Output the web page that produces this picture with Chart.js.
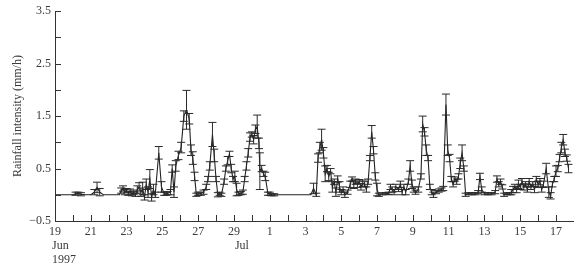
<!DOCTYPE html>
<html><head><meta charset="utf-8">
<script src="https://cdn.jsdelivr.net/npm/chart.js@4"></script>
<style>html,body{margin:0;padding:0;background:#fff}#wrap{width:577px;height:267px}</style>
</head><body><div id="wrap"><canvas id="c" width="577" height="267"></canvas></div>
<script>
// time in days since 19 Jun 1997 00:00
const days = [0,0.5,1,1.15,1.3,1.45,1.7,2,2.2,2.35,2.5,2.7,3.2,3.6,3.7,3.8,3.9,4,4.1,4.2,4.3,4.4,4.5,4.6,4.7,4.8,4.9,5,5.1,5.2,5.3,5.4,5.5,5.6,5.8,5.95,6.1,6.2,6.3,6.45,6.55,6.65,6.75,6.9,7.05,7.2,7.35,7.5,7.6,7.7,7.8,7.9,8,8.15,8.3,8.45,8.55,8.65,8.8,8.9,9,9.1,9.2,9.3,9.45,9.55,9.65,9.75,9.85,9.95,10.05,10.15,10.25,10.4,10.5,10.6,10.7,10.8,10.9,11,11.1,11.2,11.3,11.4,11.45,11.55,11.65,11.75,11.9,12,12.1,12.25,12.6,13,13.5,14,14.3,14.45,14.6,14.7,14.8,14.9,15,15.1,15.2,15.3,15.4,15.5,15.6,15.7,15.8,15.9,16,16.1,16.2,16.35,16.5,16.6,16.7,16.8,16.9,17,17.1,17.2,17.3,17.4,17.5,17.6,17.7,17.8,17.9,18,18.1,18.3,18.5,18.65,18.75,18.85,18.95,19.05,19.2,19.3,19.4,19.5,19.6,19.75,19.85,19.95,20.05,20.15,20.3,20.45,20.55,20.65,20.75,20.85,20.95,21.05,21.15,21.3,21.45,21.6,21.7,21.85,21.95,22.05,22.15,22.25,22.35,22.45,22.55,22.65,22.75,22.85,22.95,23.1,23.3,23.5,23.65,23.75,23.85,24,24.2,24.4,24.6,24.7,24.8,24.9,25,25.1,25.25,25.4,25.5,25.6,25.7,25.8,25.9,26,26.1,26.2,26.3,26.4,26.5,26.6,26.7,26.8,26.9,27,27.1,27.2,27.3,27.45,27.6,27.7,27.8,27.9,28,28.1,28.2,28.3,28.4,28.5,28.6,28.7];
const intensity = [0,0,0,0.02,0.03,0.01,0,0,0.05,0.14,0.05,0,0,0,0.08,0.12,0.05,0.08,0.03,0.06,0.02,0.05,0,0.1,0.15,0.05,0.12,-0.05,0.2,0.05,0.3,-0.05,0.1,0,0.8,0.15,0.02,0.02,0.03,0.05,0.5,0.05,0.55,0.75,0.9,1.5,1.62,1.45,0.85,0.7,0.35,0,0.02,0.02,0.05,0.15,0.3,0.55,1.15,0.75,0.3,0,0.02,0,0.25,0.5,0.65,0.78,0.5,0.3,0.35,0.1,0.02,0.03,0.05,0.3,0.55,0.8,1.1,1.15,1.05,1.25,1.3,0.98,0.45,0.5,0.4,0.35,0.02,0.02,0,0,0,0,0,0,0,0.12,0,0.7,0.9,1.05,0.8,0.4,0.5,0.35,0.45,0.15,0.25,0.05,0.3,0.15,0.05,0.1,0,0.05,0.2,0.3,0.2,0.25,0.2,0.25,0.15,0.22,0.2,0.1,0.25,0.7,1.2,0.85,0.35,0.1,0,0.02,0.02,0.03,0.15,0.1,0.05,0.15,0.1,0.2,0.05,0.15,0.05,0.25,0.55,0.2,0.1,0.05,0.1,0.35,1.35,1.2,0.85,0.7,0.15,0.05,0,0.05,0.08,0.1,0.12,1.72,0.85,0.7,0.3,0.2,0.3,0.25,0.35,0.6,0.8,0.5,0,0.02,0.02,0.02,0.05,0.35,0.1,0.02,0.02,0.02,0.05,0.3,0.2,0.25,0.15,0,0.02,0.02,0.05,0.1,0.15,0.1,0.2,0.15,0.25,0.15,0.2,0.1,0.25,0.15,0.2,0.1,0.3,0.2,0.25,0.1,0.2,0.5,0.05,-0.02,0.2,0.3,0.45,0.5,0.7,0.9,1.05,0.8,0.7,0.5];
const errors = [0,0,0,0.03,0.02,0.03,0,0,0.05,0.1,0.07,0,0,0,0.05,0.05,0.05,0.04,0.04,0.05,0.04,0.04,0.03,0.07,0.08,0.08,0.12,0.05,0.1,0.1,0.18,0.07,0.1,0.05,0.12,0.1,0.03,0.03,0.03,0.05,0.07,0.1,0.1,0.08,0.1,0.1,0.37,0.1,0.1,0.12,0.08,0.03,0.03,0.03,0.04,0.05,0.05,0.08,0.23,0.12,0.05,0.04,0.03,0.03,0.05,0.05,0.08,0.05,0.08,0.05,0.1,0.12,0.03,0.03,0.04,0.05,0.08,0.08,0.08,0.05,0.08,0.08,0.22,0.1,0.35,0.06,0.05,0.08,0.03,0.03,0.02,0.02,0,0,0,0,0,0.1,0.03,0.08,0.1,0.2,0.1,0.15,0.06,0.08,0.05,0.1,0.05,0.08,0.06,0.1,0.05,0.05,0.05,0.04,0.06,0.04,0.08,0.05,0.06,0.04,0.06,0.06,0.05,0.05,0.05,0.05,0.12,0.07,0.07,0.12,0.03,0.02,0.02,0.02,0.05,0.05,0.05,0.05,0.04,0.06,0.05,0.05,0.05,0.05,0.1,0.08,0.05,0.04,0.05,0.05,0.15,0.08,0.1,0.05,0.05,0.05,0.05,0.03,0.03,0.03,0.04,0.2,0.1,0.07,0.05,0.05,0.04,0.05,0.05,0.1,0.15,0.05,0.03,0.02,0.02,0.02,0.03,0.06,0.05,0.02,0.02,0.02,0.03,0.06,0.05,0.05,0.04,0.03,0.02,0.02,0.05,0.06,0.05,0.06,0.08,0.05,0.06,0.06,0.05,0.05,0.06,0.05,0.05,0.06,0.05,0.06,0.06,0.05,0.06,0.1,0.1,0.06,0.05,0.05,0.1,0.06,0.07,0.1,0.1,0.07,0.06,0.08];
const tickDates = ['19','21','23','25','27','29','1','3','5','7','9','11','13','15','17'];
const yLabelValues = [-0.5, 0.5, 1.5, 2.5, 3.5];
const monthLabels = [{day: 0, lines: ['Jun', '1997']}, {day: 10, lines: ['Jul']}];
const yTitle = 'Rainfall intensity (mm/h)';

const FONT = '"Liberation Serif", "Times New Roman", serif';
const TEXT = '#3a3a3a';
const AX = '#333';

const errorBars = {
  id: 'errorBars',
  afterDatasetsDraw(chart) {
    const {ctx, scales: {x, y}} = chart;
    ctx.save();
    ctx.strokeStyle = '#2a2a2a';
    ctx.lineWidth = 1;
    for (let i = 0; i < days.length; i++) {
      const e = errors[i];
      if (!e) continue;
      const px = x.getPixelForValue(days[i]);
      const yt = y.getPixelForValue(intensity[i] + e);
      const yb = y.getPixelForValue(intensity[i] - e);
      ctx.beginPath();
      ctx.moveTo(px, yt); ctx.lineTo(px, yb);
      ctx.moveTo(px - 4, yt); ctx.lineTo(px + 4, yt);
      ctx.moveTo(px - 4, yb); ctx.lineTo(px + 4, yb);
      ctx.stroke();
    }
    ctx.restore();
  }
};

const innerTicks = {
  id: 'innerTicks',
  afterDraw(chart) {
    const {ctx, chartArea: a, scales: {x, y}} = chart;
    ctx.save();
    ctx.strokeStyle = AX;
    ctx.lineWidth = 1;
    ctx.beginPath();
    y.ticks.forEach(t => {
      const py = Math.round(y.getPixelForValue(t.value)) + 0.5;
      ctx.moveTo(a.left, py); ctx.lineTo(a.left + 6, py);
    });
    x.ticks.forEach(t => {
      if (!Number.isInteger(t.value) || t.value === 0) return;
      const px = Math.round(x.getPixelForValue(t.value)) + 0.5;
      ctx.moveTo(px, a.bottom); ctx.lineTo(px, a.bottom - 6);
    });
    ctx.stroke();
    ctx.fillStyle = TEXT;
    ctx.font = '12px ' + FONT;
    ctx.textAlign = 'left';
    ctx.textBaseline = 'middle';
    monthLabels.forEach(m => {
      const px = x.getPixelForValue(m.day) + (m.day === 0 ? -3 : 1);
      m.lines.forEach((s, k) => ctx.fillText(s, px, a.bottom + 25 + k * 13.5));
    });
    ctx.restore();
  }
};

new Chart(document.getElementById('c'), {
  type: 'scatter',
  data: {
    datasets: [{
      data: days.map((d, i) => ({x: d, y: intensity[i]})),
      showLine: true,
      borderColor: '#222',
      borderWidth: 1.1,
      pointRadius: 0,
      tension: 0
    }]
  },
  options: {
    responsive: false,
    animation: false,
    devicePixelRatio: 1,
    layout: {padding: {top: 11, right: 4, left: 0, bottom: 0}},
    plugins: {legend: {display: false}, tooltip: {enabled: false}},
    scales: {
      x: {
        type: 'linear', min: 0, max: 28.95,
        grid: {display: false, drawTicks: false},
        border: {display: true, color: AX, width: 1},
        ticks: {
          stepSize: 1, autoSkip: false, maxRotation: 0, includeBounds: false,
          padding: 4, color: TEXT, font: {family: FONT, size: 12},
          callback: v => (Number.isInteger(v) && v % 2 === 0) ? tickDates[v / 2] : ''
        },
        afterFit: s => { s.height = 46; }
      },
      y: {
        min: -0.5, max: 3.5,
        grid: {display: false, drawTicks: false},
        border: {display: true, color: AX, width: 1},
        title: {display: true, text: yTitle, color: TEXT, font: {family: FONT, size: 12}, padding: {top: 11, bottom: 0}},
        ticks: {
          stepSize: 0.5, autoSkip: false, padding: 4, color: TEXT,
          font: {family: FONT, size: 12},
          callback: v => yLabelValues.some(l => Math.abs(l - v) < 1e-6) ? (v < 0 ? '\u2212' + Math.abs(v).toFixed(1) : v.toFixed(1)) : ''
        },
        afterFit: s => { s.width = 55; }
      }
    }
  },
  plugins: [errorBars, innerTicks]
});
</script>
</body></html>
